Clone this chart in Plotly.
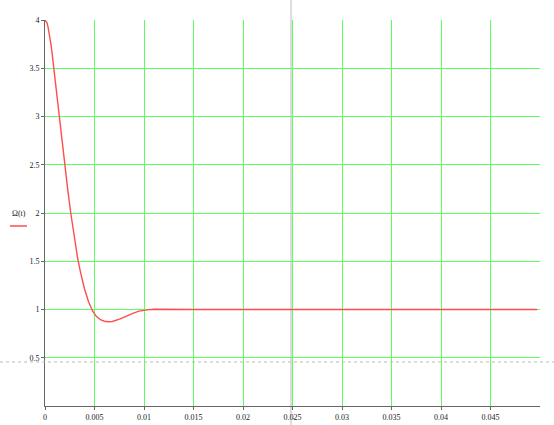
import plotly.graph_objects as go

# time (s) and response values
t_vals = [0, 0.0001, 0.0002, 0.0003, 0.0004, 0.0005, 0.0006, 0.0007, 0.0008, 0.001, 0.0012, 0.0014, 0.0016, 0.0018,
          0.002, 0.0023, 0.0026, 0.003, 0.0033, 0.0036, 0.004, 0.0044, 0.0048, 0.0052,
          0.0056, 0.006, 0.0064, 0.0068, 0.0072, 0.0076, 0.008, 0.0085, 0.009, 0.0095,
          0.01, 0.0105, 0.011, 0.012, 0.013, 0.015, 0.02, 0.025, 0.03, 0.035, 0.04,
          0.045, 0.0497]
f_vals = [4.0, 3.99, 3.97, 3.93, 3.88, 3.82, 3.75, 3.67, 3.58, 3.40, 3.20, 3.00, 2.82, 2.65,
          2.48, 2.24, 2.00, 1.72, 1.53, 1.38, 1.21, 1.08, 0.985, 0.927,
          0.894, 0.878, 0.873, 0.876, 0.886, 0.902, 0.921, 0.945, 0.966, 0.983,
          0.993, 0.999, 1.002, 1.003, 1.002, 1.0, 1.0, 1.0, 1.0, 1.0, 1.0,
          1.0, 1.0]

x_ticks = [0, 0.005, 0.01, 0.015, 0.02, 0.025, 0.03, 0.035, 0.04, 0.045]
x_tick_labels = ["0", "0.005", "0.01", "0.015", "0.02", "0.025", "0.03", "0.035", "0.04", "0.045"]
y_ticks = [0.5, 1, 1.5, 2, 2.5, 3, 3.5, 4]
y_tick_labels = ["0.5", "1", "1.5", "2", "2.5", "3", "3.5", "4"]

cursor_x = 0.02485
cursor_y = 0.456
legend_label = "Ω(t)"

W, H = 554, 425
L, R, T, B = 45, 14, 20, 19
pw, ph = W - L - R, H - T - B

fig = go.Figure()
fig.add_trace(go.Scatter(x=t_vals, y=f_vals, mode="lines",
                         line=dict(color="#ff4d4d", width=1.4, shape="linear"),
                         showlegend=False, hoverinfo="skip"))

font = dict(family="Liberation Serif", size=8, color="#222222")
fig.update_layout(
    width=W, height=H,
    margin=dict(l=L, r=R, t=T, b=B, autoexpand=False),
    paper_bgcolor="white", plot_bgcolor="white",
    xaxis=dict(range=[0, 0.05], tickvals=x_ticks, ticktext=x_tick_labels,
               showgrid=True, gridcolor="#5cff5c", gridwidth=1,
               showline=True, linecolor="#666666", linewidth=1,
               ticks="outside", ticklen=3, tickcolor="#666666",
               zeroline=False, tickfont=font, automargin=False, layer="below traces"),
    yaxis=dict(range=[0, 4], tickvals=y_ticks, ticktext=y_tick_labels,
               showgrid=True, gridcolor="#5cff5c", gridwidth=1,
               showline=True, linecolor="#666666", linewidth=1,
               ticks="outside", ticklen=3, tickcolor="#666666",
               zeroline=False, tickfont=font, automargin=False, layer="below traces"),
)

# Mathcad trace cursor lines
fig.add_shape(type="line", xref="x", yref="paper", x0=cursor_x, x1=cursor_x,
              y0=-B / ph, y1=1 + T / ph, line=dict(color="#dddddd", width=2), layer="below")
fig.add_shape(type="line", xref="paper", yref="y", x0=-L / pw, x1=1 + R / pw,
              y0=cursor_y, y1=cursor_y, line=dict(color="#bbbbbb", width=1, dash="dot"))

# cursor marker dot below axis
fig.add_annotation(x=(294 - L) / pw, y=(H - B - 423) / ph, xref="paper", yref="paper",
                   text="•", showarrow=False, font=dict(size=4, color="#333333"))

# legend label at left
fig.add_annotation(x=(11 - L) / pw, y=(H - B - 213) / ph, xref="paper", yref="paper",
                   xanchor="left", text=legend_label, showarrow=False, borderpad=0,
                   font=dict(family="Liberation Serif", size=8, color="#222222"))
fig.add_shape(type="line", xref="paper", yref="paper",
              x0=(10 - L) / pw, x1=(27 - L) / pw,
              y0=(H - B - 226) / ph, y1=(H - B - 226) / ph,
              line=dict(color="#ff4d4d", width=1.5))

fig.write_html("out.html", config={"displayModeBar": False},
               post_script="document.body.style.margin='0';document.body.style.overflow='hidden';")
